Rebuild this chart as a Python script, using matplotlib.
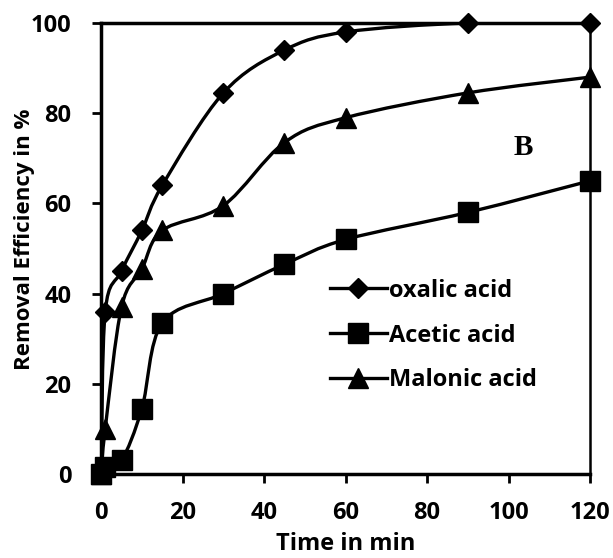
import numpy as np
import matplotlib.pyplot as plt
from matplotlib.path import Path
from matplotlib.patches import PathPatch
from matplotlib.lines import Line2D

plt.rcParams['font.family'] = ['Open Sans', 'DejaVu Sans']
plt.rcParams['font.weight'] = 'bold'

times = [0, 1, 5, 10, 15, 30, 45, 60, 90, 120]
oxalic = [0, 36, 45, 54, 64, 84.5, 94, 98, 100, 100]
acetic = [0, 1.5, 3, 14.5, 33.5, 40, 46.5, 52, 58, 65]
malonic = [0, 10, 37, 45.5, 54, 59.5, 73.5, 79, 84.5, 88]

series = [
    ("oxalic acid", oxalic, "D", 10.5),
    ("Acetic acid", acetic, "s", 14),
    ("Malonic acid", malonic, "^", 14),
]


def smooth_path(x, y):
    """Excel-like smoothed line as cubic Bezier segments"""
    pts = np.column_stack([x, y]).astype(float)
    n = len(pts)
    verts = [pts[0]]
    codes = [Path.MOVETO]
    for i in range(n - 1):
        p0 = pts[max(i - 1, 0)]
        p1 = pts[i]
        p2 = pts[i + 1]
        p3 = pts[min(i + 2, n - 1)]
        c1 = p1 + (p2 - p0) / 6
        c2 = p2 - (p3 - p1) / 6
        verts += [c1, c2, p2]
        codes += [Path.CURVE4] * 3
    return Path(verts, codes)


fig = plt.figure(figsize=(6.13, 5.58), dpi=100)
ax = fig.add_axes([0.165, 0.1505, 0.7975, 0.8083])

handles = []
for label, values, marker, ms in series:
    patch = PathPatch(smooth_path(times, values), facecolor="none",
                      edgecolor="black", lw=2.4, zorder=2)
    ax.add_patch(patch)
    ax.plot(times, values, ls="none", marker=marker, ms=ms, color="black",
            zorder=3, clip_on=False)
    handles.append(Line2D([], [], color="black", lw=2.4, marker=marker,
                          ms=ms, label=label))

ax.set_xlim(0, 120)
ax.set_ylim(0, 100)
ax.set_xticks(np.arange(0, 121, 20))
ax.set_yticks(np.arange(0, 101, 20))
ax.tick_params(direction="out", length=6.5, width=2, labelsize=17,
               top=False, right=False)
ax.tick_params(axis="x", pad=13)
ax.tick_params(axis="y", pad=15)
for side in ["left", "bottom", "top"]:
    ax.spines[side].set_linewidth(2.5)
ax.spines["right"].set_linewidth(1.8)

ax.set_xlabel("Time in min", fontsize=17, fontweight="bold")
ax.xaxis.set_label_coords(0.5, -0.128)
ax.set_ylabel("Removal Efficiency in %", fontsize=16, fontweight="bold")
ax.yaxis.set_label_coords(-0.135, 0.521)

ax.text(103.6, 72.3, "B", fontsize=21, fontweight="bold",
        family="Liberation Serif", ha="center", va="center")

ax.legend(handles=handles, loc="upper left", bbox_to_anchor=(0.468, 0.433),
          frameon=False, fontsize=17, handlelength=2.4, handletextpad=0.1,
          labelspacing=0.88, borderaxespad=0, borderpad=0)

fig.savefig("out.png", dpi=100)
